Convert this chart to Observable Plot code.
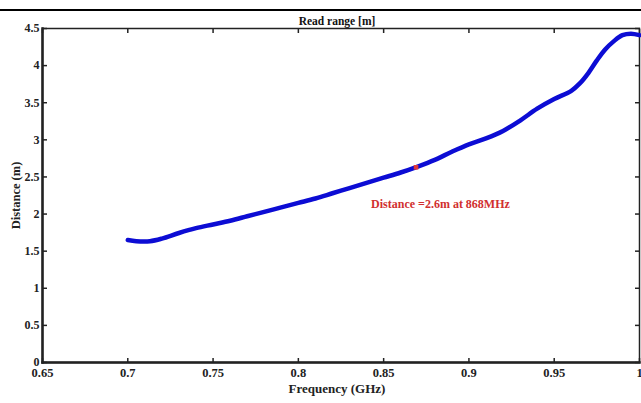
<!DOCTYPE html>
<html>
<head>
<meta charset="utf-8">
<script src="https://cdn.jsdelivr.net/npm/d3@7"></script>
<script src="https://cdn.jsdelivr.net/npm/@observablehq/plot@0.6"></script>
<style>
  body { margin: 0; background: #fff; }
  #wrap { position: relative; width: 641px; height: 403px; overflow: hidden; }
  #topline { position: absolute; left: 0; top: 9px; width: 641px; height: 2px; background: #000; }
  svg { font-family: "Liberation Serif", "DejaVu Serif", serif; }
</style>
</head>
<body>
<div id="wrap"><div id="topline"></div></div>
<script>
const freq = [0.700,0.705,0.713,0.720,0.730,0.740,0.750,0.760,0.770,0.780,0.790,0.800,0.810,0.820,0.830,0.840,0.850,0.860,0.870,0.880,0.890,0.900,0.910,0.920,0.930,0.940,0.950,0.960,0.965,0.970,0.975,0.980,0.985,0.990,0.995,1.000];
const dist = [1.65,1.635,1.635,1.67,1.745,1.81,1.86,1.91,1.97,2.03,2.09,2.15,2.21,2.28,2.35,2.42,2.49,2.56,2.64,2.73,2.84,2.94,3.02,3.12,3.26,3.42,3.55,3.66,3.76,3.90,4.07,4.22,4.33,4.41,4.43,4.41];
const markerFreq = [0.869];
const markerDist = [2.63];
const xTicks = [0.65,0.7,0.75,0.8,0.85,0.9,0.95,1];
const yTicks = [0,0.5,1,1.5,2,2.5,3,3.5,4,4.5];
const titleText = "Read range [m]";
const xLabel = "Frequency (GHz)";
const yLabel = "Distance (m)";
const annotation = "Distance =2.6m at 868MHz";

const data = freq.map((f, i) => ({f, d: dist[i]}));
const marker = markerFreq.map((f, i) => ({f, d: markerDist[i]}));
const blank = () => "";

const chart = Plot.plot({
  width: 641,
  height: 403,
  marginLeft: 42,
  marginRight: 2,
  marginTop: 28,
  marginBottom: 41,
  style: {fontFamily: "Liberation Serif, serif", background: "white"},
  x: {domain: [0.65, 1], ticks: xTicks},
  y: {domain: [0, 4.5], ticks: yTicks},
  marks: [
    Plot.axisX({ticks: xTicks, tickSize: -4, tickPadding: 10, tickFormat: d => String(d), fontSize: 12.5, fontWeight: "bold", fill: "#222", stroke: "#222", strokeWidth: 1.5, label: null}),
    Plot.axisX({anchor: "top", ticks: xTicks, tickSize: -4, tickFormat: blank, label: null, stroke: "#222", strokeWidth: 1.5}),
    Plot.axisY({ticks: yTicks, tickSize: -5, tickPadding: 8, tickFormat: d => String(d), fontSize: 12, fontWeight: "bold", fill: "#222", stroke: "#222", strokeWidth: 1.5, label: null}),
    Plot.axisY({anchor: "right", ticks: yTicks, tickSize: -5, tickFormat: blank, label: null, stroke: "#222", strokeWidth: 1.5}),
    Plot.frame({stroke: "#222", strokeWidth: 1.5}),
    Plot.frame({anchor: "left", stroke: "#222", strokeWidth: 2.5}),
    Plot.frame({anchor: "bottom", stroke: "#222", strokeWidth: 2.5}),
    Plot.line(data, {x: "f", y: "d", stroke: "#0c0cd4", strokeWidth: 4.5, curve: "catmull-rom"}),
    Plot.dot(marker, {x: "f", y: "d", symbol: "square", r: 2.6, fill: "#e03a3a", stroke: null}),
    Plot.text([annotation], {x: markerFreq, y: markerDist, text: d => d, dx: -45, dy: 37, textAnchor: "start", fill: "#d12f2f", fontWeight: "bold", fontSize: 12}),
    Plot.text([titleText], {frameAnchor: "top", dx: -4, dy: -12, text: d => d, fontWeight: "bold", fontSize: 11.5, fill: "#111"}),
    Plot.text([xLabel], {frameAnchor: "bottom", dx: -4, dy: 30, text: d => d, fontWeight: "bold", fontSize: 13, fill: "#222"}),
    Plot.text([yLabel], {frameAnchor: "left", dx: -27, rotate: -90, textAnchor: "middle", text: d => d, fontWeight: "bold", fontSize: 12.5, fill: "#222"})
  ]
});
document.getElementById("wrap").appendChild(chart);
</script>
</body>
</html>
